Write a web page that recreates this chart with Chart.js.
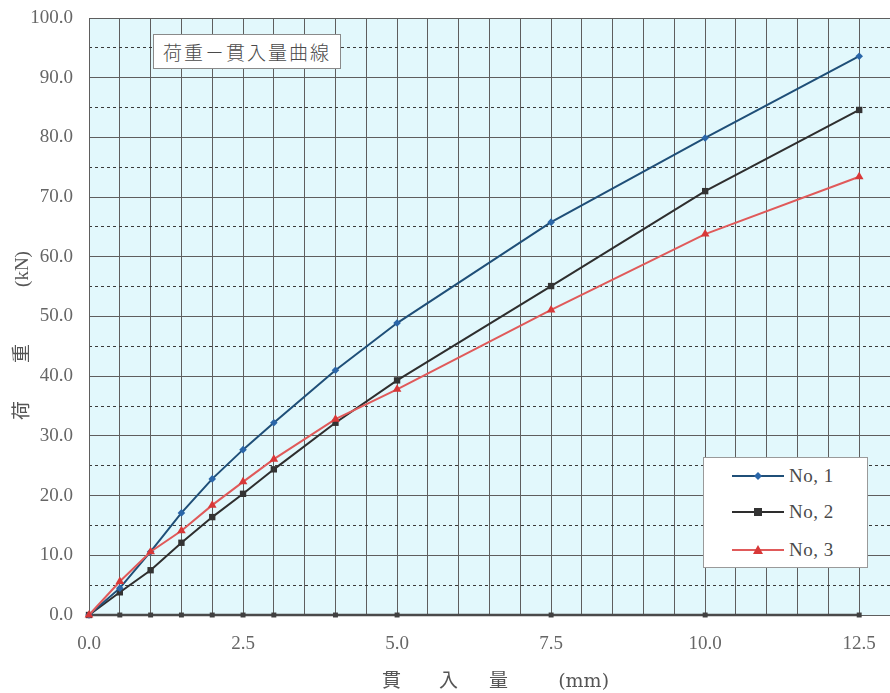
<!DOCTYPE html>
<html>
<head>
<meta charset="utf-8">
<script src="https://cdn.jsdelivr.net/npm/chart.js@4.4.1/dist/chart.umd.min.js"></script>
<style>
  html, body { margin:0; padding:0; background:#ffffff; }
  #wrap { position:relative; width:890px; height:693px; }
  #titleBox { position:absolute; left:153px; top:34px; width:188px; height:35px; box-sizing:border-box;
    border:1px solid #8a8a8a; background:#ffffff; color:#4a4a4a;
    font-family:"Noto Sans CJK JP", sans-serif; font-weight:300; font-size:19px; line-height:33px; letter-spacing:2px; text-align:center; }
  #legendBox { position:absolute; left:703px; top:457px; width:165px; height:111px; box-sizing:border-box;
    border:1px solid #9a9a9a; background:#ffffff; }
  .lg { position:absolute; left:28px; height:20px; display:flex; align-items:center; }
  .lg span { font-family:"Liberation Serif", serif; font-size:19px; color:#4a4a4a; margin-left:5px; letter-spacing:0.5px; }
</style>
</head>
<body>
<div id="wrap">
  <canvas id="c" width="890" height="693"></canvas>
  <div id="titleBox">荷重－貫入量曲線</div>
  <div id="legendBox"></div>
</div>
<script>
// ---- data ----
const penetration = [0, 0.5, 1, 1.5, 2, 2.5, 3, 4, 5, 7.5, 10, 12.5];
const no1 = [0, 4.5, 10.6, 17.1, 22.8, 27.7, 32.2, 41.0, 48.9, 65.8, 79.9, 93.6];
const no2 = [0, 3.8, 7.5, 12.1, 16.4, 20.3, 24.4, 32.2, 39.3, 55.1, 71.0, 84.6];
const no3 = [0, 5.6, 10.6, 14.1, 18.4, 22.3, 26.1, 32.8, 37.8, 51.1, 63.8, 73.4];
const baseLine = [0, 0, 0, 0, 0, 0, 0, 0, 0, 0, 0, 0];
const seriesNames = ["No, 1", "No, 2", "No, 3"];
const xTickLabels = ["0.0", "2.5", "5.0", "7.5", "10.0", "12.5"];
const yMinorLines = [5, 15, 25, 35, 45, 55, 65, 75, 85, 95];

const pts = (ys) => penetration.map((x, i) => ({ x: x, y: ys[i] }));

const styles = [
  { line:"#1f4f78", fill:"#2a66a8", shape:"rectRot", r:3.8, w:2 },
  { line:"#2e2e2e", fill:"#333333", shape:"rect", r:4.5, w:2 },
  { line:"#e05a5a", fill:"#d83838", shape:"triangle", r:5, w:2 }
];

const datasets = [
  { label: seriesNames[2], data: pts(no3), borderColor: styles[2].line, backgroundColor: styles[2].fill,
    pointStyle: styles[2].shape, pointRadius: styles[2].r, borderWidth: styles[2].w, order: 0 },
  { label: seriesNames[0], data: pts(no1), borderColor: styles[0].line, backgroundColor: styles[0].fill,
    pointStyle: styles[0].shape, pointRadius: styles[0].r, borderWidth: styles[0].w, order: 1 },
  { label: seriesNames[1], data: pts(no2), borderColor: styles[1].line, backgroundColor: styles[1].fill,
    pointStyle: styles[1].shape, pointRadius: styles[1].r, borderWidth: styles[1].w, order: 2 },
  { label: "base", data: pts(baseLine), borderColor: "#4a4a4a", backgroundColor: "#404040",
    pointStyle: "rect", pointRadius: 3.5, borderWidth: 2.5, order: 3 }
];
datasets.forEach(d => { d.pointBorderWidth = 0; d.pointBorderColor = d.backgroundColor; d.tension = 0; d.clip = false; });

const plotBg = {
  id: "plotBg",
  beforeDraw(chart) {
    const a = chart.chartArea, ctx = chart.ctx;
    ctx.save();
    ctx.fillStyle = "#e2f8fc";
    ctx.fillRect(a.left, a.top, a.right - a.left, a.bottom - a.top);
    ctx.restore();
  }
};

const tickFont = { family: "'Liberation Serif', serif", size: 19 };
const titleFamily = "'DejaVu Serif', 'Noto Sans CJK JP', serif";
const zeroPad = (s) => { s.paddingLeft = 0; s.paddingRight = 0; s.paddingTop = 0; s.paddingBottom = 0; };

const chart = new Chart(document.getElementById("c"), {
  type: "line",
  data: { datasets: datasets },
  options: {
    responsive: false,
    animation: false,
    layout: { autoPadding: false, padding: { top: 18, right: 0, left: 0, bottom: 0 } },
    plugins: { legend: { display: false }, tooltip: { enabled: false } },
    scales: {
      x: {
        type: "linear", min: 0, max: 13,
        ticks: {
          stepSize: 0.5, autoSkip: false, maxRotation: 0, padding: 18,
          color: "#666666", font: tickFont,
          callback: (v) => { const s = Number(v).toFixed(1); return xTickLabels.includes(s) ? s : ""; }
        },
        grid: { color: "#5e5e5e", lineWidth: 1, drawTicks: false },
        border: { color: "#5e5e5e" },
        title: { display: true, text: "  貫　　入　  量　　  (mm)", color: "#555555",
          font: { family: titleFamily, size: 19 }, padding: { top: 3, bottom: 0 } },
        afterFit: (s) => { s.height = 78; zeroPad(s); }
      },
      y: {
        type: "linear", min: 0, max: 100, position: "left",
        ticks: { stepSize: 10, padding: 16, color: "#666666", font: tickFont,
          callback: (v) => Number(v).toFixed(1) },
        grid: { color: "#5e5e5e", lineWidth: 1, drawTicks: false },
        border: { color: "#5e5e5e" },
        title: { display: true, text: "荷　　重　　　(kN)　　", color: "#555555",
          font: { family: "'Liberation Serif', 'Noto Sans CJK JP', serif", size: 19 }, padding: { top: 12, bottom: 0 } },
        afterFit: (s) => { s.width = 89; zeroPad(s); }
      },
      y2: {
        type: "linear", min: 0, max: 100, position: "left",
        ticks: { display: false },
        grid: { color: "#3a3a3a", lineWidth: 1, drawTicks: false },
        border: { display: false, dash: [3, 3] },
        afterBuildTicks: (s) => { s.ticks = yMinorLines.map(v => ({ value: v })); },
        afterFit: (s) => { s.width = 0; zeroPad(s); }
      }
    }
  },
  plugins: [plotBg]
});

// ---- legend (HTML) built from the datasets ----
const legendBox = document.getElementById("legendBox");
const rowsTop = [8, 44, 82];
seriesNames.forEach((name, i) => {
  const ds = chart.data.datasets.find(d => d.label === name);
  const st = styles[i];
  let marker = "";
  if (st.shape === "rectRot") marker = '<polygon points="26,3 30,7 26,11 22,7" fill="' + ds.backgroundColor + '"/>';
  else if (st.shape === "rect") marker = '<rect x="22" y="3" width="8" height="8" fill="' + ds.backgroundColor + '"/>';
  else marker = '<polygon points="26,2 31,11 21,11" fill="' + ds.backgroundColor + '"/>';
  const row = document.createElement("div");
  row.className = "lg";
  row.style.top = rowsTop[i] + "px";
  row.innerHTML = '<svg width="52" height="14"><line x1="0" y1="7" x2="52" y2="7" stroke="' + ds.borderColor +
    '" stroke-width="2"/>' + marker + '</svg><span>' + name + '</span>';
  legendBox.appendChild(row);
});
</script>
</body>
</html>
